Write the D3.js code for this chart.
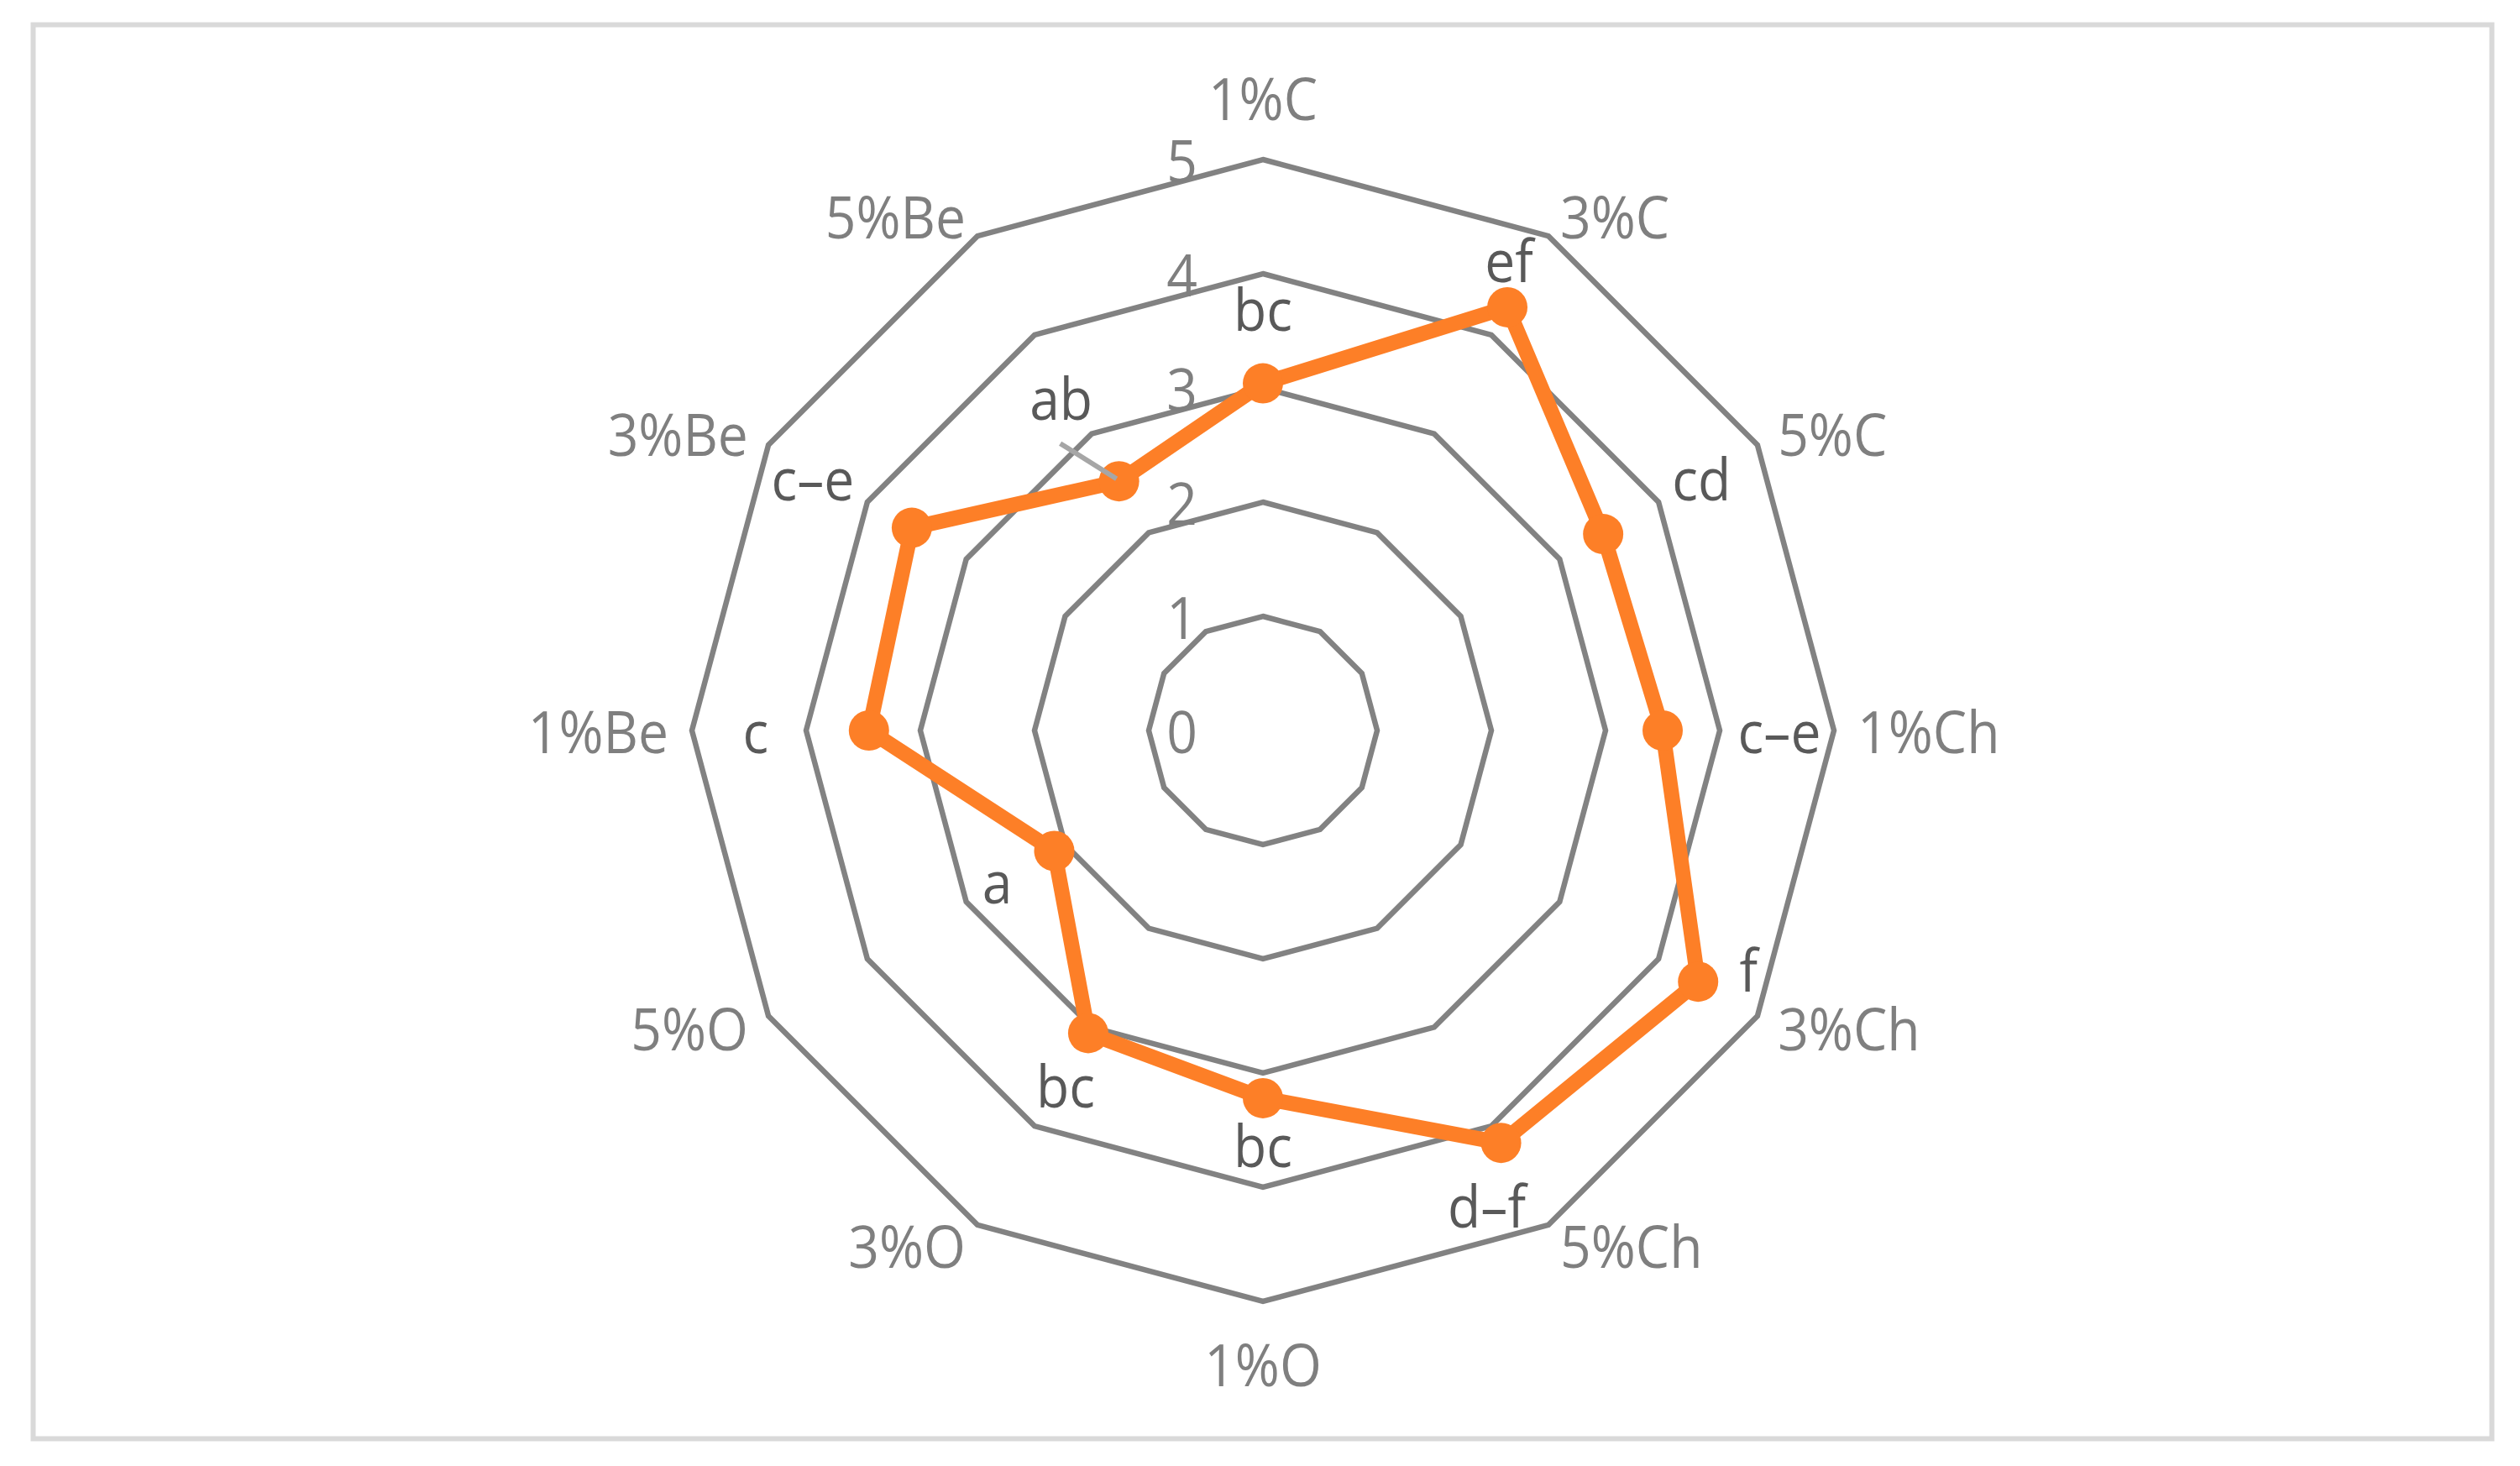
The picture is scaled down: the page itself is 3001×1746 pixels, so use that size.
<!DOCTYPE html>
<html>
<head>
<meta charset="utf-8">
<script src="https://cdn.jsdelivr.net/npm/d3@7"></script>
<style>
  html, body { margin: 0; padding: 0; background: #ffffff; }
  svg { display: block; }
</style>
</head>
<body>
<script>
// ---- data ----
const categories = ["1%C", "3%C", "5%C", "1%Ch", "3%Ch", "5%Ch", "1%O", "3%O", "5%O", "1%Be", "3%Be", "5%Be"];
const values     = [3.04, 4.28, 3.44, 3.50, 4.40, 4.17, 3.22, 3.06, 2.11, 3.45, 3.55, 2.52];
const letters    = ["bc", "ef", "cd", "c–e", "f", "d–f", "bc", "bc", "a", "c", "c–e", "ab"];
const tickValues = [0, 1, 2, 3, 4, 5];

// ---- layout (label placement relative to each point, px) ----
const letterOffsets = [[0, -90], [2, -57], [117, -67], [139, 0], [60, -15], [-17, 74],
                       [0, 55], [-27, 62], [-68, 36], [-135, 0], [-118, -60], [-69, -100]];
const leaderIndex = 11;   // the one label drawn with a leader line

const W = 3001, H = 1746;
const cx = 1504, cy = 870, R = 680;
const FONT = "'Open Sans', 'Noto Sans', sans-serif";
const FS = 69;
const SQUEEZE = 0.93;

const svg = d3.select("body").append("svg")
  .attr("width", W).attr("height", H);

svg.append("rect").attr("width", W).attr("height", H).attr("fill", "#fff");
svg.append("rect")
  .attr("x", 39.5).attr("y", 29.5)
  .attr("width", 2928).attr("height", 1684)
  .attr("fill", "none").attr("stroke", "#d9d9d9").attr("stroke-width", 6);

const rScale = d3.scaleLinear().domain([0, 5]).range([0, R]);
const aScale = d3.scaleLinear().domain([0, categories.length]).range([0, 2 * Math.PI]);

const g = svg.append("g").attr("transform", `translate(${cx},${cy})`);

// grid rings
const ringLine = d3.lineRadial()
  .angle((d, i) => aScale(i))
  .radius(d => rScale(d))
  .curve(d3.curveLinearClosed);

g.selectAll("path.ring")
  .data(tickValues.filter(t => t > 0))
  .join("path")
  .attr("class", "ring")
  .attr("d", t => ringLine(categories.map(() => t)))
  .attr("fill", "none")
  .attr("stroke", "#828282")
  .attr("stroke-width", 6.5)
  .attr("stroke-linejoin", "miter");

// tick labels
g.selectAll("text.tick")
  .data(tickValues)
  .join("text")
  .attr("class", "tick")
  .attr("x", -78)
  .attr("y", t => -rScale(t))
  .attr("text-anchor", "end")
  .attr("dominant-baseline", "central")
  .attr("fill", "#7f7f7f")
  .text(t => t);

// category labels
const pt = (i, r) => [r * Math.sin(aScale(i)), -r * Math.cos(aScale(i))];
g.selectAll("text.cat")
  .data(categories)
  .join("text")
  .attr("class", "cat")
  .each(function (d, i) {
    const a = aScale(i);
    const s = Math.sin(a), c = Math.cos(a);
    const [vx, vy] = pt(i, R);
    const dd = 28;
    let x = vx + dd * s, y = vy - dd * c;
    let anchor = "middle";
    if (s > 0.01) anchor = "start";
    else if (s < -0.01) anchor = "end";
    else y = vy - (dd + 46) * c;
    d3.select(this)
      .attr("x", x).attr("y", y)
      .attr("text-anchor", anchor)
      .attr("dominant-baseline", "central");
  })
  .attr("fill", "#7f7f7f")
  .text(d => d);

// data series
const dataLine = d3.lineRadial()
  .angle((d, i) => aScale(i))
  .radius(d => rScale(d))
  .curve(d3.curveLinearClosed);

const ORANGE = "#fd7f27";
g.append("path")
  .datum(values)
  .attr("d", dataLine)
  .attr("fill", "none")
  .attr("stroke", ORANGE)
  .attr("stroke-width", 18)
  .attr("stroke-linejoin", "round");

g.selectAll("circle.pt")
  .data(values)
  .join("circle")
  .attr("class", "pt")
  .attr("cx", (d, i) => pt(i, rScale(d))[0])
  .attr("cy", (d, i) => pt(i, rScale(d))[1])
  .attr("r", 24)
  .attr("fill", ORANGE);

// leader line
{
  const [px, py] = pt(leaderIndex, rScale(values[leaderIndex]));
  g.append("line")
    .attr("x1", px - 70).attr("y1", py - 45)
    .attr("x2", px - 3).attr("y2", py - 3)
    .attr("stroke", "#a6a6a6")
    .attr("stroke-width", 6);
}

// significance letters
g.selectAll("text.letter")
  .data(letters)
  .join("text")
  .attr("class", "letter")
  .attr("x", (d, i) => pt(i, rScale(values[i]))[0] + letterOffsets[i][0])
  .attr("y", (d, i) => pt(i, rScale(values[i]))[1] + letterOffsets[i][1])
  .attr("text-anchor", "middle")
  .attr("dominant-baseline", "central")
  .attr("fill", "#595959")
  .text(d => d);

// common font + slightly narrower set width (approximating the reference face)
svg.selectAll("text")
  .attr("font-family", FONT)
  .attr("font-size", FS)
  .each(function () {
    const len = this.getComputedTextLength();
    d3.select(this)
      .attr("textLength", len * SQUEEZE)
      .attr("lengthAdjust", "spacingAndGlyphs");
  });
</script>
</body>
</html>
